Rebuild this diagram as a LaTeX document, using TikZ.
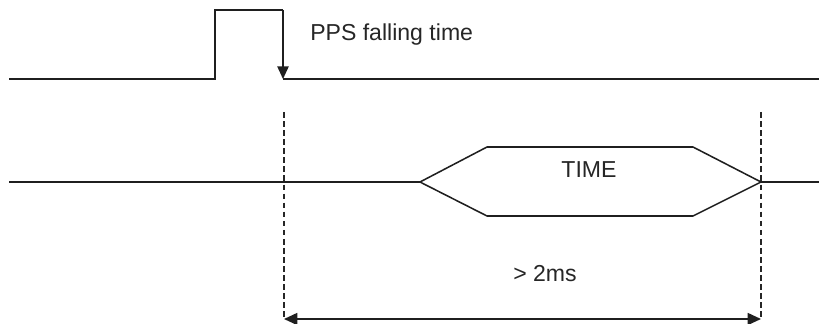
\documentclass[tikz,border=0pt]{standalone}
\usepackage{fontspec}
\setmainfont{Liberation Sans}
\usetikzlibrary{arrows.meta}
\begin{document}
\begin{tikzpicture}[x=0.75pt,y=-0.75pt,
  wave/.style={line width=1.15pt,draw=black!88},
  marker/.style={line width=0.8pt,draw=black!85,dash pattern=on 4.2pt off 2.6pt},
  tip/.style={-{Triangle[length=9.5pt,width=8.5pt]}},
  dimline/.style={line width=1.15pt,draw=black!88,{Triangle[length=10pt,width=9pt]}-{Triangle[length=10pt,width=9pt]}},
  lbl/.style={font=\fontsize{17.3pt}{19pt}\selectfont,text=black!85,inner sep=0pt}]
\useasboundingbox (0,0) rectangle (819,324);

% PPS signal
\coordinate (ppsStart) at (9,79);
\coordinate (riseLo) at (215,79);
\coordinate (riseHi) at (215,10);
\coordinate (fallHi) at (283,10);
\coordinate (fallLo) at (283,79);
\coordinate (ppsEnd) at (819,79);
\draw[wave] (ppsStart) -- (riseLo) -- (riseHi) -- (fallHi);
\draw[wave] (fallLo) -- (ppsEnd);
\draw[wave,tip] (fallHi) -- (fallLo);
\node[lbl,anchor=base west] (ppsLabel) at (310,41) {PPS falling time};

% data line with TIME field
\coordinate (dataStart) at (9,182);
\coordinate (hexL) at (420,182);
\coordinate (hexTL) at (487,147);
\coordinate (hexTR) at (693,147);
\coordinate (hexR) at (761,182);
\coordinate (hexBR) at (693,216);
\coordinate (hexBL) at (487,216);
\coordinate (dataEnd) at (819,182);
\draw[wave] (dataStart) -- (hexL);
\draw[wave] (hexL) -- (hexTL) -- (hexTR) -- (hexR) -- (hexBR) -- (hexBL) -- cycle;
\draw[wave] (hexR) -- (dataEnd);
\node[lbl,anchor=base] (timeLabel) at (589,177.3) {TIME};

% timing markers
\coordinate (markLTop) at (284,112);
\coordinate (markLBot) at (284,319);
\coordinate (markRTop) at (761,112);
\coordinate (markRBot) at (761,319);
\draw[marker] (markLTop) -- (markLBot);
\draw[marker] (markRTop) -- (markRBot);
\draw[dimline] (markLBot) -- (markRBot);
\node[lbl,anchor=base] (delayLabel) at (545,281.7) {> 2ms};
\end{tikzpicture}
\end{document}
